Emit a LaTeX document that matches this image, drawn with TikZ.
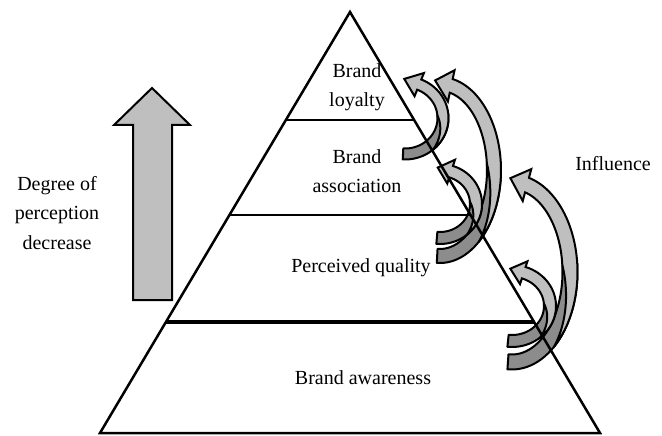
\documentclass[tikz,border=0pt]{standalone}
\usepackage{fontspec}
\setmainfont{Liberation Serif}
\usetikzlibrary{calc}
\tikzset{
  lbl/.style={font=\fontsize{20}{29.5}\selectfont, align=center, inner sep=0pt},
  pyr/.style={line width=2.5pt, line join=miter},
  darkband/.style={fill=black!45, draw=black, line width=2pt, line join=round},
  lightband/.style={fill=black!25, draw=black, line width=2pt, line join=miter},
  blockarrow/.style={fill=black!25, draw=black, line width=2pt, line join=miter}
}
\newcommand\curvarrow[9]{% cx cy rx ry w T H b L
  \pgfmathsetmacro\caHW{#5/2}%
  \pgfmathsetmacro\caSa{50}%
  \pgfmathsetmacro\caSb{-5}%
  \filldraw[darkband] plot[domain=#6:\caSb,samples=30] ({#1+(#3+\caHW)*cos(\x)},{#2+(#4+\caHW)*sin(\x)})
     -- plot[domain=\caSb:#6,samples=30] ({#1+(#3-\caHW)*cos(\x)},{#2+(#4-\caHW)*sin(\x)}) -- cycle;
  \pgfmathsetmacro\caMx{#1+#3*cos(#7)}%
  \pgfmathsetmacro\caMy{#2+#4*sin(#7)}%
  \pgfmathsetmacro\caTx{#3*sin(#7)}%
  \pgfmathsetmacro\caTy{-#4*cos(#7)}%
  \pgfmathsetmacro\caTn{sqrt(\caTx*\caTx+\caTy*\caTy)}%
  \pgfmathsetmacro\caPx{\caMx+#9*\caTx/\caTn}%
  \pgfmathsetmacro\caPy{\caMy+#9*\caTy/\caTn}%
  \filldraw[lightband] plot[domain=\caSb:\caSa,samples=30] ({#1+(#3-\caHW+#5*(\x-(\caSb))/(\caSa-(\caSb)))*cos(\x)},{#2+(#4-\caHW+#5*(\x-(\caSb))/(\caSa-(\caSb)))*sin(\x)})
    -- plot[domain=\caSa:#7,samples=40] ({#1+(#3+\caHW)*cos(\x)},{#2+(#4+\caHW)*sin(\x)})
    -- ({#1+(#3+\caHW+#8)*cos(#7)},{#2+(#4+\caHW+#8)*sin(#7)})
    -- (\caPx,\caPy)
    -- ({#1+(#3-\caHW-#8)*cos(#7)},{#2+(#4-\caHW-#8)*sin(#7)})
    -- plot[domain=#7:\caSb,samples=30] ({#1+(#3-\caHW)*cos(\x)},{#2+(#4-\caHW)*sin(\x)})
    -- cycle;
}
\begin{document}
\begin{tikzpicture}[x=1pt,y=-1pt]
\useasboundingbox (0,0) rectangle (662,436);
\fill[white] (0,0) rectangle (662,436);

% curved influence arrows
\curvarrow{405}{118}{38}{36}{11}{93}{-68}{7}{16}
\curvarrow{440}{170}{54}{86}{14}{93}{-78}{9}{17}
\curvarrow{440}{204}{36}{34}{12}{95}{-72}{6.5}{14}
\curvarrow{512}{272}{58}{90}{15}{94}{-75}{9}{18}
\curvarrow{512}{306}{38}{35}{12}{96}{-72}{6}{14}

% pyramid
\coordinate (apex) at (350,12);
\coordinate (bl) at (100,433);
\coordinate (br) at (600,433);
\draw[pyr] (apex) -- (bl) -- (br) -- cycle;
\draw[line width=2.6pt] ($(apex)!0.2565!(bl)$) -- ($(apex)!0.2565!(br)$);
\draw[line width=2.6pt] ($(apex)!0.4822!(bl)$) -- ($(apex)!0.4822!(br)$);
\draw[line width=3.6pt] ($(apex)!0.7363!(bl)$) -- ($(apex)!0.7363!(br)$);

% up block arrow
\draw[blockarrow] (133,300) -- (133,125) -- (114,125) -- (152,88) -- (190,125) -- (172,125) -- (172,300) -- cycle;

% labels
\node[lbl] (loy) at (357,87) {Brand\\loyalty};
\node[lbl] (ass) at (357,171) {Brand\\association};
\node[lbl] (qua) at (361,268) {Perceived quality};
\node[lbl] (awa) at (363,378) {Brand awareness};
\node[lbl] (inf) at (613,164) {Influence};
\node[lbl] (deg) at (57,213) {Degree of\\perception\\decrease};
\end{tikzpicture}
\end{document}
